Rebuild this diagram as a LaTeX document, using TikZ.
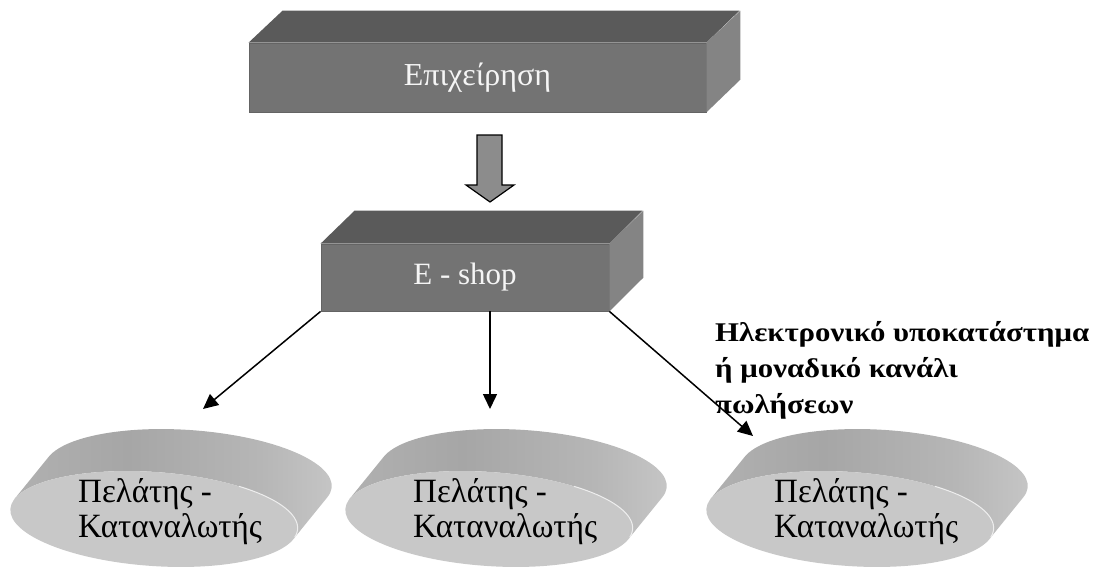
\documentclass[tikz,border=0pt]{standalone}
\usepackage{fontspec}
\setmainfont{Liberation Serif}
\usetikzlibrary{arrows.meta,shapes.geometric}
\definecolor{boxfront}{RGB}{115,115,115}
\definecolor{boxtop}{RGB}{90,90,90}
\definecolor{boxside}{RGB}{132,132,132}
\definecolor{boxedge}{RGB}{100,100,100}
\definecolor{boxtext}{RGB}{245,245,245}
\definecolor{fatfill}{RGB}{140,140,140}
\definecolor{discfront}{RGB}{200,200,200}
\definecolor{bandA}{RGB}{192,192,192}
\definecolor{bandB}{RGB}{166,166,166}
\definecolor{bandC}{RGB}{182,182,182}
\definecolor{bandD}{RGB}{234,234,234}
\definecolor{hilite}{RGB}{238,238,238}
\pgfdeclarehorizontalshading{discband}{100bp}{color(0bp)=(bandA); color(42bp)=(bandB); color(62bp)=(bandC); color(100bp)=(bandD)}
\tikzset{
  boxface/.style={fill=boxfront, text=boxtext, inner sep=0pt, draw=boxedge, line width=0.8pt},
  topface/.style={fill=boxtop},
  sideface/.style={fill=boxside},
  fatarrow/.style={fill=fatfill, draw=black, line width=1.2pt, line join=miter},
  conn/.style={draw=black, line width=1.5pt, -{Triangle[length=15pt,width=14pt]}},
  discnode/.style={ellipse, fill=discfront, minimum width=288pt, minimum height=94pt, inner sep=0pt},
  disctext/.style={anchor=base west, align=left, inner sep=0pt, xscale=0.97, font=\fontsize{34}{35}\selectfont},
  notetext/.style={anchor=base west, align=left, inner sep=0pt, xscale=1.14, font=\bfseries\fontsize{27}{36}\selectfont},
}
\begin{document}
\begin{tikzpicture}[x=1pt,y=1pt]
\useasboundingbox (0,0) rectangle (1109,-571);

% top box
\node[boxface, minimum width=457pt, minimum height=69pt] (firm) at (477.5,-77.5) {\fontsize{32}{36}\selectfont Επιχείρηση};
\fill[topface] (firm.north west) -- ++(34,32) -- ++(457,0) -- (firm.north east) -- cycle;
\fill[sideface] (firm.north east) -- ++(34,32) -- ++(0,-69) -- (firm.south east) -- cycle;

% E-shop box
\node[boxface, minimum width=288pt, minimum height=67pt] (shop) at (465,-277.5) {\fontsize{31}{34}\selectfont E - shop};
\fill[topface] (shop.north west) -- ++(34,33) -- ++(288,0) -- (shop.north east) -- cycle;
\fill[sideface] (shop.north east) -- ++(34,33) -- ++(0,-67) -- (shop.south east) -- cycle;

% block arrow between the boxes
\draw[fatarrow] (477,-135) -- (502,-135) -- (502,-185) -- (514,-185) -- (490,-202) -- (466,-185) -- (477,-185) -- cycle;

% discs
\foreach \cx/\nm/\tn in {154/c1/t1, 489/c2/t2, 850/c3/t3}{
  \begin{scope}[shift={(\cx,-519)}, rotate=-4]
    \shade[shading=discband]
      (171.4,33.8) arc[start angle=-12.87, end angle=167.13, x radius=144, y radius=47]
      -- (-140.4,10.47) arc[start angle=167.13, end angle=-12.87, x radius=144, y radius=47]
      -- cycle;
    \node[discnode, rotate=-4] (\nm) at (0,0) {};
    \draw[hilite, line width=1pt] (-10:144 and 47) arc[start angle=-10, end angle=55, x radius=144, y radius=47];
  \end{scope}
  \node[disctext] (\tn) at (\cx-76,-537) {Πελάτης -\\Καταναλωτής};
}

% label
\node[notetext] (note) at (715,-413) {Ηλεκτρονικό υποκατάστημα\\ή μοναδικό κανάλι\\πωλήσεων};

% connectors
\coordinate (e1) at (203,-409);
\coordinate (e2) at (490,-409);
\coordinate (e3) at (753,-436);
\draw[conn] (shop.south west) -- (e1);
\draw[conn] (shop.south -| e2) -- (e2);
\draw[conn] (shop.south east) -- (e3);
\end{tikzpicture}
\end{document}
